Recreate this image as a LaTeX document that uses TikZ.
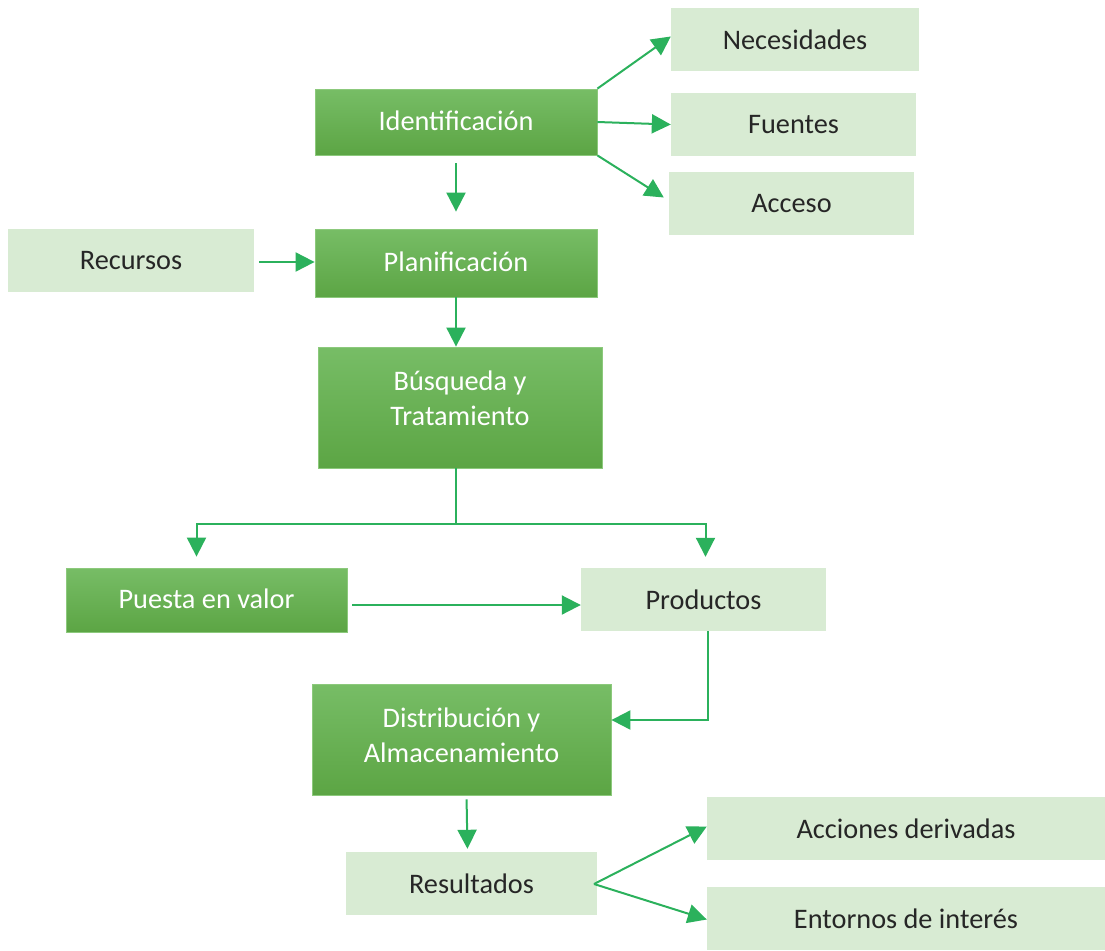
\documentclass[tikz,border=0pt]{standalone}
\usepackage{fontspec}
\setmainfont{Carlito}
\usetikzlibrary{arrows.meta,calc}
\definecolor{gtop}{HTML}{77BD66}
\definecolor{gbot}{HTML}{5CA544}
\definecolor{gline}{HTML}{8CC97C}
\definecolor{lightg}{HTML}{D8EBD3}
\definecolor{arrg}{HTML}{2BB15C}
\definecolor{txt}{HTML}{262626}
\tikzset{
  dark/.style={rectangle, top color=gtop, bottom color=gbot, draw=gline, line width=0.8pt,
    text=white, font=\fontsize{28.3}{35}\selectfont, align=center, inner sep=0pt},
  light/.style={rectangle, fill=lightg, draw=none, text=txt,
    font=\fontsize{28.3}{35}\selectfont, align=center, inner sep=0pt},
  arr/.style={draw=arrg, line width=2pt, -{Triangle[length=19pt,width=19pt]}},
  ln/.style={draw=arrg, line width=2pt},
}
\begin{document}
\begin{tikzpicture}[x=1pt,y=-1pt]
\useasboundingbox (0,0) rectangle (1105,950);
% dark boxes
\node[dark, minimum width=282pt, minimum height=66pt] (id) at (456,122) {\raisebox{3pt}{Identificación}};
\node[dark, minimum width=282pt, minimum height=68pt] (pla) at (456,263) {\raisebox{3pt}{Planificación}};
\node[dark, minimum width=284pt, minimum height=121pt] (bus) at (460,407.5) {\raisebox{18pt}{\shortstack{Búsqueda y\\[8pt]Tratamiento}}};
\node[dark, minimum width=281pt, minimum height=64pt] (pue) at (206.5,600) {\raisebox{2pt}{Puesta en valor}};
\node[dark, minimum width=299pt, minimum height=111pt] (dis) at (461.5,739.5) {\raisebox{9pt}{\shortstack{Distribución y\\[8pt]Almacenamiento}}};
% light boxes
\node[light, minimum width=248pt, minimum height=63pt] (nec) at (795,39.5) {Necesidades};
\node[light, minimum width=245pt, minimum height=63pt] (fue) at (793.5,124.5) {Fuentes};
\node[light, minimum width=245pt, minimum height=63pt] (acc) at (791.5,203.5) {Acceso};
\node[light, minimum width=246pt, minimum height=63pt] (rec) at (131,260.5) {Recursos};
\node[light, minimum width=245pt, minimum height=63pt] (pro) at (703.5,599.5) {Productos};
\node[light, minimum width=251pt, minimum height=63pt] (res) at (471.5,883.5) {Resultados};
\node[light, minimum width=398pt, minimum height=63pt] (acd) at (906,828.5) {Acciones derivadas};
\node[light, minimum width=398pt, minimum height=63pt] (ent) at (906,918.5) {Entornos de interés};
% connectors
\draw[arr] (id.north east) -- ([yshift=3pt]nec.west);
\draw[arr] (id.east) -- (fue.west);
\draw[arr] (id.south east) -- ([xshift=-5pt,yshift=6pt]acc.west);
\draw[arr, shorten <=8pt, shorten >=17pt] (id.south) -- (pla.north);
\draw[arr, shorten <=5pt] ([yshift=-1.5pt]rec.east) -- ([yshift=-1.5pt]rec.east -| pla.west);
\draw[arr] (pla.south) -- ([xshift=-4pt]bus.north);
\coordinate (split) at (456,524);
\draw[ln] ([xshift=-4pt]bus.south) -- (split);
\draw[arr, shorten >=11pt] (split) -| ([xshift=-10pt]pue.north);
\draw[arr, shorten >=11pt] (split) -| ([xshift=2pt]pro.north);
\draw[arr, shorten <=5pt] ([yshift=-5pt]pue.east) -- ([yshift=-5pt]pue.east -| pro.west);
\draw[arr] ([xshift=4pt]pro.south) |- ([yshift=19.5pt]dis.east);
\draw[arr, shorten <=4pt, shorten >=3pt] ([xshift=5pt]dis.south) -- ([xshift=-4pt]res.north);
\coordinate (rfork) at (594,884);
\draw[arr] (rfork) -- ([yshift=2pt]acd.west);
\draw[arr] (rfork) -- ([yshift=-1pt]ent.west);
\end{tikzpicture}
\end{document}
